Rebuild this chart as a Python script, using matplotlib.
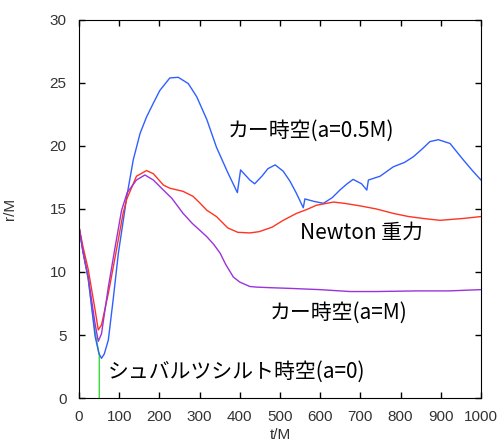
import numpy as np
import matplotlib
matplotlib.use("Agg")
import matplotlib.pyplot as plt

# Kerr a=0.5M (blue)
t_b = [0, 10, 23, 40, 50, 56, 63, 73, 85, 98, 114, 119, 135, 152, 168, 185, 201, 226, 247, 272,
       293, 318, 342, 370, 394, 402, 425, 437, 455, 470, 488, 508, 525, 540, 558, 562, 585, 608, 630, 649,
       667, 682, 703, 716, 720, 749, 782, 810, 832, 855, 873, 894, 923, 956, 980, 1000]
r_b = [13.6, 11.6, 9.5, 4.9, 3.5, 3.15, 3.5, 4.6, 7.8, 11.5, 14.9, 16.0, 18.9, 21.0, 22.3, 23.4, 24.4, 25.4, 25.45, 24.95,
       23.9, 22.1, 19.9, 17.9, 16.3, 18.1, 17.3, 17.0, 17.6, 18.2, 18.5, 18.0, 17.2, 16.3, 15.1, 15.8, 15.6, 15.45, 15.9, 16.5,
       17.0, 17.35, 17.0, 16.5, 17.3, 17.6, 18.35, 18.7, 19.15, 19.8, 20.35, 20.5, 20.2, 18.9, 18.0, 17.3]

# Newton (red)
t_r = [0, 10, 23, 40, 48, 56, 73, 90, 110, 119, 143, 168, 185, 210, 226, 259, 284, 300, 318, 342,
       370, 395, 425, 448, 480, 508, 541, 566, 591, 633, 660, 699, 740, 782, 820, 856, 898, 956, 1000]
r_r = [13.6, 12.0, 10.2, 7.0, 5.4, 5.8, 8.3, 11.2, 14.7, 15.8, 17.6, 18.05, 17.8, 16.9, 16.65, 16.4, 16.0, 15.5, 14.9, 14.4,
       13.5, 13.15, 13.1, 13.2, 13.55, 14.1, 14.65, 14.95, 15.3, 15.55, 15.45, 15.25, 15.0, 14.65, 14.4, 14.25, 14.1, 14.25, 14.4]

# Kerr a=M (purple)
t_p = [0, 10, 23, 40, 48, 56, 73, 90, 106, 120, 143, 164, 185, 210, 231, 259, 282, 301, 318, 335,
       351, 365, 384, 400, 425, 442, 480, 525, 600, 674, 740, 840, 920, 1000]
r_p = [13.6, 11.6, 9.6, 5.9, 4.5, 5.1, 8.8, 12.0, 14.9, 16.3, 17.3, 17.7, 17.3, 16.5, 15.85, 14.65, 13.85, 13.3, 12.8, 12.2,
       11.5, 10.6, 9.6, 9.2, 8.85, 8.8, 8.75, 8.7, 8.6, 8.45, 8.45, 8.5, 8.5, 8.6]

# Schwarzschild a=0 (green), captured
t_g = [0, 10, 23, 40, 48, 50.5, 50.5]
r_g = [13.6, 11.6, 9.4, 5.3, 3.8, 3.4, 0]

labels = ["カー時空(a=0.5M)", "Newton 重力", "カー時空(a=M)", "シュバルツシルト時空(a=0)"]
label_pos = [(371, 21.2), (550, 13.1), (475, 6.75), (72, 2.06)]

fig = plt.figure(figsize=(4.98, 4.47), dpi=100)
ax = fig.add_axes([0.1586, 0.1096, 0.8072, 0.8457])

ax.plot(t_g, r_g, color="#33dd33", lw=1.0)
ax.plot(t_b, r_b, color="#2f5fff", lw=1.0)
ax.plot(t_r, r_r, color="#ff3322", lw=1.0)
ax.plot(t_p, r_p, color="#9a33dd", lw=1.0)

for s, (x, y) in zip(labels, label_pos):
    ax.text(x, y, s, ha="left", va="center", fontsize=15,
            family=["Noto Sans CJK JP", "DejaVu Sans"], color="black")

ax.set_xlim(0, 1000)
ax.set_ylim(0, 30)
ax.set_xticks(np.arange(0, 1001, 100))
ax.set_yticks(np.arange(0, 31, 5))
ax.tick_params(direction="in", length=4, width=1, top=True, right=True,
               labelsize=11, labelcolor="#333333")
ax.tick_params(axis="x", pad=8.5)
ax.tick_params(axis="y", pad=9)
for lab in ax.get_xticklabels() + ax.get_yticklabels():
    lab.set_family("Liberation Sans")

ax.set_xlabel("t/M", fontsize=11, color="#333333", family="Liberation Sans")
ax.set_ylabel("r/M", fontsize=11, color="#333333", family="Liberation Sans")
ax.xaxis.set_label_coords(0.5, -0.08)
ax.yaxis.set_label_coords(-0.155, 0.5)

plt.savefig("out.png", dpi=100)
